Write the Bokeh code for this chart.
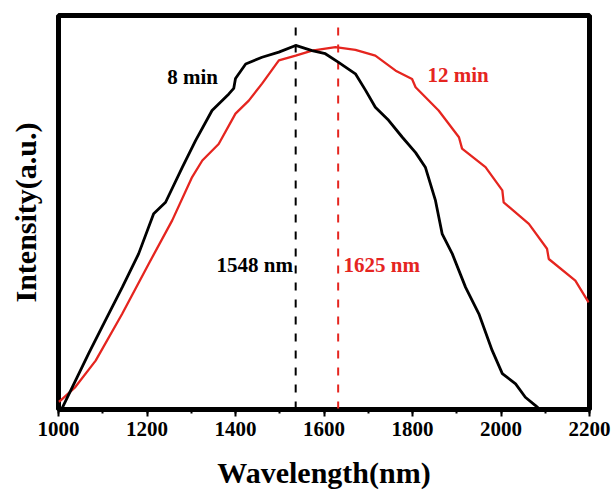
import math
from bokeh.plotting import figure
from bokeh.models import Range1d, SingleIntervalTicker, Label
from bokeh.embed import file_html
from bokeh.resources import INLINE

# ---- data ----
wl_8min = [1008, 1068, 1106, 1144, 1181, 1215, 1242, 1280, 1310, 1347, 1385, 1396, 1400,
           1423, 1460, 1498, 1536, 1573, 1603, 1633, 1671, 1694, 1716, 1746, 1777, 1807,
           1829, 1852, 1867, 1890, 1920, 1950, 1980, 2003, 2033, 2055, 2078, 2085]
int_8min = [0.003, 0.142, 0.226, 0.310, 0.395, 0.497, 0.526, 0.615, 0.683, 0.759, 0.801, 0.815, 0.840,
            0.877, 0.894, 0.907, 0.924, 0.911, 0.903, 0.881, 0.852, 0.810, 0.767, 0.734, 0.691, 0.652,
            0.615, 0.530, 0.446, 0.395, 0.310, 0.243, 0.150, 0.091, 0.065, 0.031, 0.010, 0.003]

wl_12min = [1000, 1005, 1038, 1084, 1144, 1204, 1257, 1302, 1325, 1362, 1400, 1430, 1460,
            1498, 1536, 1573, 1626, 1671, 1716, 1762, 1799, 1807, 1859, 1905, 1912, 1965,
            2003, 2006, 2063, 2104, 2108, 2168, 2198]
int_12min = [0.020, 0.023, 0.057, 0.124, 0.243, 0.370, 0.480, 0.590, 0.632, 0.674, 0.751, 0.784, 0.827,
             0.886, 0.898, 0.911, 0.920, 0.913, 0.898, 0.860, 0.839, 0.818, 0.759, 0.691, 0.662, 0.615,
             0.556, 0.526, 0.471, 0.408, 0.382, 0.327, 0.272]

peak_wl = [1536, 1632]
peak_labels = ["1548 nm", "1625 nm"]
series_labels = ["8 min", "12 min"]
x_title = "Wavelength(nm)"
y_title = "Intensity(a.u.)"

BLACK = "#000000"
RED = "#e5251f"
FONT = "Liberation Serif"

p = figure(width=612, height=493, output_backend="svg", toolbar_location=None,
           x_range=Range1d(1000, 2200), y_range=Range1d(0, 1),
           min_border_left=58, min_border_right=23, min_border_top=15, min_border_bottom=84)
p.background_fill_color = "white"
p.border_fill_color = "white"
p.xgrid.visible = False
p.ygrid.visible = False
p.outline_line_color = "black"
p.outline_line_width = 5

ay = p.yaxis[0]
ay.axis_line_color = None
ay.major_tick_line_color = None
ay.minor_tick_line_color = None
ay.major_label_text_font_size = "0px"
ay.major_label_text_color = None
ay.axis_label = y_title
ay.axis_label_text_font = FONT
ay.axis_label_text_font_style = "bold"
ay.axis_label_text_font_size = "30px"
ay.axis_label_text_color = "black"
ay.axis_label_standoff = 11

ax = p.xaxis[0]
ax.ticker = SingleIntervalTicker(interval=200, num_minor_ticks=2)
ax.axis_line_color = "black"
ax.axis_line_width = 2
ax.major_tick_in = 0
ax.major_tick_out = 7
ax.minor_tick_in = 0
ax.minor_tick_out = 4
ax.major_tick_line_width = 2
ax.minor_tick_line_width = 2
ax.major_label_text_font = FONT
ax.major_label_text_font_style = "bold"
ax.major_label_text_font_size = "21px"
ax.major_label_text_color = "black"
ax.major_label_standoff = 5
ax.axis_label = x_title
ax.axis_label_text_font = FONT
ax.axis_label_text_font_style = "bold"
ax.axis_label_text_font_size = "30px"
ax.axis_label_text_color = "black"
ax.axis_label_standoff = 17

# dashed peak markers
p.segment(x0=[peak_wl[0]], y0=[0], x1=[peak_wl[0]], y1=[0.975],
          line_color=BLACK, line_width=2, line_dash="8 9")
p.segment(x0=[peak_wl[1]], y0=[0], x1=[peak_wl[1]], y1=[0.975],
          line_color=RED, line_width=2, line_dash="8 9")

# spectra
p.line(wl_12min, int_12min, line_color=RED, line_width=2.3)
p.line(wl_8min, int_8min, line_color=BLACK, line_width=2.8)

def lab(x, y, text, color, align="center"):
    p.add_layout(Label(x=x, y=y, text=text, text_color=color, text_font=FONT,
                       text_font_style="bold", text_font_size="21px",
                       text_align=align, text_baseline="middle"))

lab(1303, 0.843, series_labels[0], BLACK)
lab(1903, 0.848, series_labels[1], RED)
lab(1530, 0.367, peak_labels[0], BLACK, align="right")
lab(1644, 0.367, peak_labels[1], RED, align="left")

open("out.html", "w").write(file_html(p, INLINE))
